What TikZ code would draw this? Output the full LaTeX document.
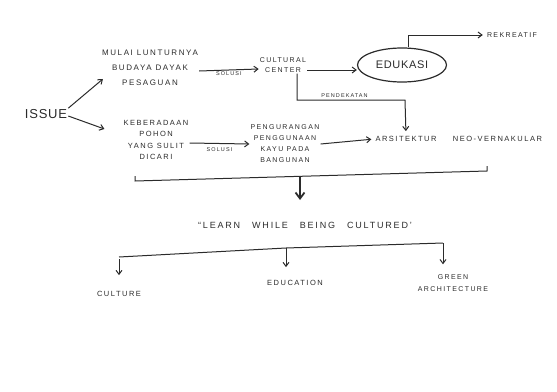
\documentclass[tikz,border=0pt]{standalone}
\usepackage{fontspec}
\newfontfamily\handfont[LetterSpace=20]{Liberation Sans}
\newfontfamily\bighand[LetterSpace=6]{Liberation Sans}
\usetikzlibrary{arrows.meta,positioning,calc,shapes.geometric}
\definecolor{pencil}{HTML}{2B2B2B}

\begin{document}
\begin{tikzpicture}[x=1pt,y=-1pt,
 txt/.style={font=\handfont\fontsize{7.5}{11}\selectfont,text=pencil,align=center,inner sep=1pt},
 lbl/.style={font=\handfont\fontsize{5.5}{6}\selectfont,text=pencil,inner sep=1.5pt},
 ar/.style={draw=pencil,line width=1pt,-{Straight Barb[length=4pt,width=6pt]}},
 bigar/.style={draw=pencil,line width=1.8pt,-{Straight Barb[length=6pt,width=9pt]}},
 ln/.style={draw=pencil,line width=1pt}]
\useasboundingbox (0,0) rectangle (557,391);
% first row
\node [txt,font=\bighand\fontsize{13}{13}\selectfont] (issue) at (46,114) {ISSUE};
\node [txt,font=\handfont\fontsize{8}{15}\selectfont] (lunturnya) at (150,68) {MULAI LUNTURNYA\\BUDAYA DAYAK\\PESAGUAN};
\node [txt,font=\handfont\fontsize{7}{10}\selectfont] (cultural) at (283,65) {CULTURAL\\CENTER};
\node [ellipse,draw=pencil,line width=1.2pt,minimum width=89pt,minimum height=34pt,inner sep=0pt,
  text=pencil,font=\bighand\fontsize{11}{11}\selectfont] (edukasi) at (402,65) {EDUKASI};
\node [txt,font=\handfont\fontsize{7}{9}\selectfont] (rekreatif) at (512,35) {REKREATIF};
% second row
\node [txt,font=\handfont\fontsize{7.5}{11.5}\selectfont] (keberadaan) at (156,140) {KEBERADAAN\\POHON\\YANG SULIT\\DICARI};
\node [txt,font=\handfont\fontsize{7}{11}\selectfont] (pengurangan) at (285,144) {PENGURANGAN\\PENGGUNAAN\\KAYU PADA\\BANGUNAN};
\node [txt] (arsi) at (406,139) {ARSITEKTUR};
\node [txt,right=14pt of arsi] (neo) {NEO-VERNAKULAR};
% tagline and pillars
\node [txt,font=\handfont\fontsize{9}{9}\selectfont] (learn) at (305,225)
  {“LEARN\hspace{12pt}WHILE\hspace{12pt}BEING\hspace{12pt}CULTURED’};
\node [txt] (culture) at (119,294) {CULTURE};
\node [txt] (education) at (295,283) {EDUCATION};
\node [txt,font=\handfont\fontsize{7}{12}\selectfont] (green) at (453,283) {GREEN\\ARCHITECTURE};

\coordinate (bend) at (405,100);
\coordinate (bl) at (135,181); \coordinate (br) at (487,171);
\coordinate (bm) at (300,176);
\coordinate (ll) at (119,259); \coordinate (lr) at (443,243);
\coordinate (lm) at (286,248);

\draw [ar] (issue.north east) -- ([xshift=2pt,yshift=8pt]lunturnya.south west);
\draw [ar] ([yshift=-2pt]issue.east) -- ([xshift=-18pt,yshift=11pt]keberadaan.west);
\draw [ar] ([yshift=-3pt]lunturnya.east) -- ([yshift=-4pt]cultural.west)
  node[midway,below,lbl]{SOLUSI};
\draw [ar] ([yshift=-5pt]cultural.east) -- ([yshift=-5pt]edukasi.west);
\draw [ar,shorten >=3pt] ([xshift=6pt]edukasi.north) |- (rekreatif.west);
\draw [ar,shorten >=4pt] ([xshift=14pt]cultural.south) |- (bend)
  node[pos=0.72,above,lbl,yshift=1pt]{PENDEKATAN} -- (arsi.north);
\draw [ar] ([yshift=-3pt]keberadaan.east) -- (pengurangan.west)
  node[midway,below,lbl,yshift=-2pt]{SOLUSI};
\draw [ar,shorten >=3pt] (pengurangan.east) -- (arsi.west);
\draw [ln] ([yshift=5pt]bl) -- (bl) -- (br) -- ([yshift=5pt]br);
\draw [bigar] (bm) -- ++(0,24);
\draw [ln] ([yshift=2pt]ll) -- (lm) -- (lr);
\draw [ar,shorten >=15pt] (ll) -- (ll |- culture.north);
\draw [ar,shorten >=12pt] (lm) -- (lm |- education.north);
\draw [ar,shorten >=9pt] (lr) -- (lr |- green.north);
\end{tikzpicture}
\end{document}
